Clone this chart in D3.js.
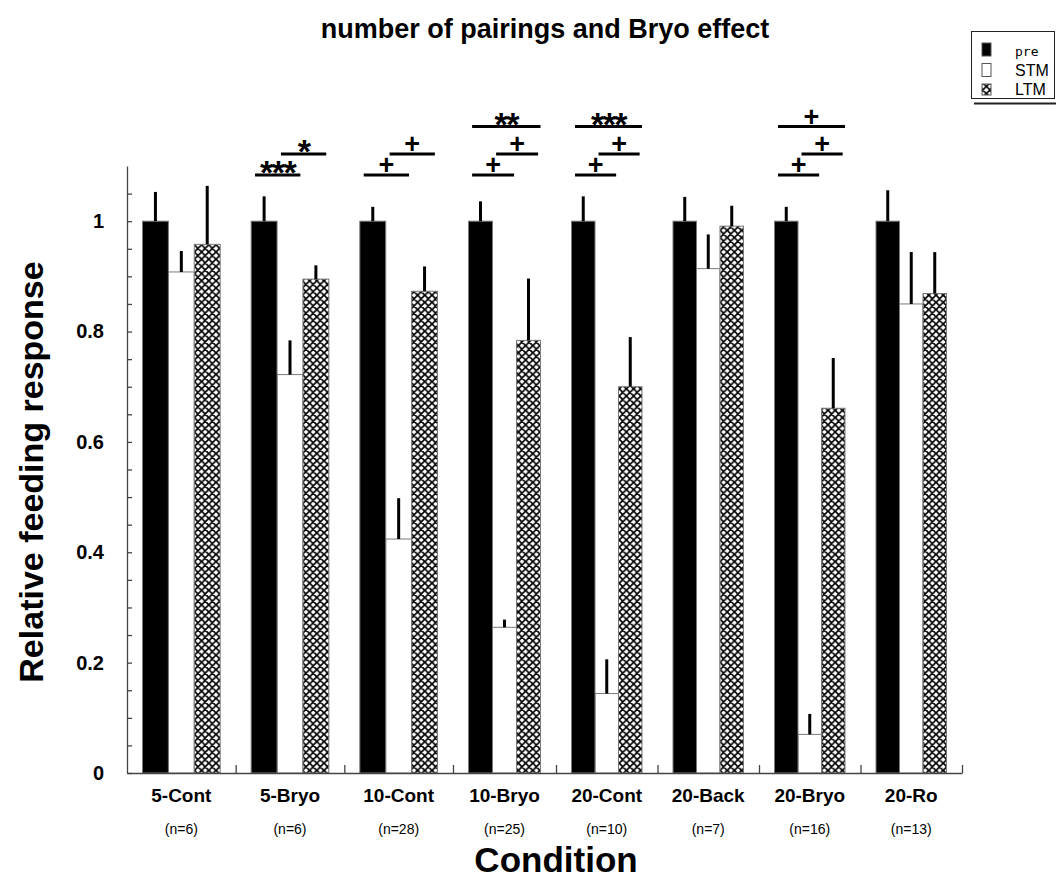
<!DOCTYPE html>
<html>
<head>
<meta charset="utf-8">
<script src="https://cdn.jsdelivr.net/npm/d3@7"></script>
<style>
  html, body { margin: 0; padding: 0; background: #fff; }
  svg { display: block; font-family: "Liberation Sans", Arial, sans-serif; }
</style>
</head>
<body>
<svg id="chart" width="1056" height="890"></svg>
<script>
// ---- data ----
const categories = ["5-Cont", "5-Bryo", "10-Cont", "10-Bryo", "20-Cont", "20-Back", "20-Bryo", "20-Ro"];
const sampleSizes = ["(n=6)", "(n=6)", "(n=28)", "(n=25)", "(n=10)", "(n=7)", "(n=16)", "(n=13)"];
const series = ["pre", "STM", "LTM"];

const preMean = [1, 1, 1, 1, 1, 1, 1, 1];
const preSem  = [0.053, 0.045, 0.026, 0.036, 0.045, 0.044, 0.026, 0.056];
const stmMean = [0.908, 0.722, 0.424, 0.264, 0.144, 0.914, 0.070, 0.850];
const stmSem  = [0.038, 0.062, 0.074, 0.014, 0.062, 0.062, 0.037, 0.094];
const ltmMean = [0.958, 0.895, 0.873, 0.784, 0.700, 0.991, 0.661, 0.869];
const ltmSem  = [0.106, 0.025, 0.045, 0.112, 0.090, 0.037, 0.091, 0.075];

const yTickLabels = [0, 0.2, 0.4, 0.6, 0.8, 1];

// significance markers: level 0 = lowest bracket
const significance = [
  { cat: "5-Bryo",  from: "pre", to: "STM", level: 0, mark: "***" },
  { cat: "5-Bryo",  from: "STM", to: "LTM", level: 1, mark: "*" },
  { cat: "10-Cont", from: "pre", to: "STM", level: 0, mark: "+" },
  { cat: "10-Cont", from: "STM", to: "LTM", level: 1, mark: "+" },
  { cat: "10-Bryo", from: "pre", to: "STM", level: 0, mark: "+" },
  { cat: "10-Bryo", from: "STM", to: "LTM", level: 1, mark: "+" },
  { cat: "10-Bryo", from: "pre", to: "LTM", level: 2, mark: "**" },
  { cat: "20-Cont", from: "pre", to: "STM", level: 0, mark: "+" },
  { cat: "20-Cont", from: "STM", to: "LTM", level: 1, mark: "+" },
  { cat: "20-Cont", from: "pre", to: "LTM", level: 2, mark: "***" },
  { cat: "20-Bryo", from: "pre", to: "STM", level: 0, mark: "+" },
  { cat: "20-Bryo", from: "STM", to: "LTM", level: 1, mark: "+" },
  { cat: "20-Bryo", from: "pre", to: "LTM", level: 2, mark: "+" }
];

// ---- layout ----
const svg = d3.select("#chart");
const plotLeft = 127, plotRight = 962, plotBottom = 773, plotTop = 166;

const y = d3.scaleLinear().domain([0, 1.1]).range([plotBottom, plotTop]);
// condition slots: the first three are a little wider than the rest
const slot = d3.scaleLinear().domain([0, 3, 4, 8]).range([plotLeft, 453, 556, plotRight]);
const slotPad = 15.5;
const inner = categories.map((c, i) =>
  d3.scaleBand().domain(series).range([slot(i) + slotPad, slot(i + 1) - slotPad]).padding(0)
);
const barX = (i, s) => inner[i](s);
const bw = i => inner[i].bandwidth();

// ---- crosshatch pattern ----
const defs = svg.append("defs");
const p = 7.2;
defs.append("pattern")
  .attr("id", "xhatch")
  .attr("patternUnits", "userSpaceOnUse")
  .attr("width", p).attr("height", p)
  .call(g => {
    g.append("rect").attr("width", p).attr("height", p).attr("fill", "#fff");
    g.append("path")
      .attr("d", `M0,0L${p},${p}M${p},0L0,${p}` +
                 `M-1,1L1,-1M${p - 1},${p + 1}L${p + 1},${p - 1}` +
                 `M${p - 1},-1L${p + 1},1M-1,${p - 1}L1,${p + 1}`)
      .attr("stroke", "#000").attr("stroke-width", 1.7);
  });

const rows = categories.map((c, i) => ({
  cat: c, i,
  vals: { pre: preMean[i], STM: stmMean[i], LTM: ltmMean[i] },
  errs: { pre: preSem[i], STM: stmSem[i], LTM: ltmSem[i] }
}));

const fills = { pre: "#000", STM: "#fff", LTM: "url(#xhatch)" };

// ---- bars (STM first so neighbouring edges sit on top) ----
const drawOrder = ["STM", "pre", "LTM"];
const barsG = svg.append("g");
drawOrder.forEach(s => {
  barsG.selectAll(null).data(rows).enter().append("rect")
    .attr("x", d => barX(d.i, s))
    .attr("y", d => y(d.vals[s]))
    .attr("width", d => bw(d.i))
    .attr("height", d => y(0) - y(d.vals[s]))
    .attr("fill", fills[s])
    .attr("stroke", "#7a7a7a")
    .attr("stroke-width", 1);
});

// ---- error bars (upper only) ----
series.forEach(s => {
  svg.append("g").selectAll("line").data(rows).enter().append("line")
    .attr("x1", d => barX(d.i, s) + bw(d.i) / 2)
    .attr("x2", d => barX(d.i, s) + bw(d.i) / 2)
    .attr("y1", d => y(d.vals[s]))
    .attr("y2", d => y(d.vals[s] + d.errs[s]))
    .attr("stroke", "#000")
    .attr("stroke-width", 3);
});

// ---- axes ----
const axisColor = "#444";
const xAxis = svg.append("g")
  .attr("transform", `translate(0,${plotBottom})`)
  .call(d3.axisBottom(slot).tickValues(d3.range(1, categories.length + 1))
    .tickSizeInner(-8).tickSizeOuter(0).tickFormat(""));
xAxis.selectAll("path, line").attr("stroke", axisColor).attr("stroke-width", 1.3);

const minorTicks = d3.range(0, 22).map(k => k * 0.05);
const yMinor = svg.append("g")
  .attr("transform", `translate(${plotLeft},0)`)
  .call(d3.axisLeft(y).tickValues(minorTicks).tickSizeInner(-5).tickSizeOuter(0).tickFormat(""));
yMinor.selectAll("path, line").attr("stroke", axisColor).attr("stroke-width", 1.3);

const yLabels = svg.append("g")
  .attr("transform", `translate(${plotLeft},0)`)
  .call(d3.axisLeft(y).tickValues(yTickLabels).tickSize(0).tickPadding(23)
    .tickFormat(d3.format("~g")));
yLabels.select(".domain").remove();
yLabels.selectAll("text")
  .attr("font-family", "'Liberation Sans', Arial, sans-serif")
  .attr("font-size", 20).attr("font-weight", "bold").attr("fill", "#000");

// category labels and sample sizes
const catG = svg.append("g");
catG.selectAll("text.cat").data(rows).enter().append("text")
  .attr("class", "cat")
  .attr("x", d => (slot(d.i) + slot(d.i + 1)) / 2)
  .attr("y", 802)
  .attr("text-anchor", "middle")
  .attr("font-size", 19).attr("font-weight", "bold")
  .text(d => d.cat);
catG.selectAll("text.n").data(rows).enter().append("text")
  .attr("class", "n")
  .attr("x", d => (slot(d.i) + slot(d.i + 1)) / 2)
  .attr("y", 834)
  .attr("text-anchor", "middle")
  .attr("font-size", 14)
  .text(d => sampleSizes[d.i]);

// ---- significance brackets ----
const levelOffset = [9, -12, -39.5];
const sigG = svg.append("g");
significance.forEach(m => {
  const i = categories.indexOf(m.cat);
  const w = bw(i);
  const span = series.indexOf(m.to) - series.indexOf(m.from);
  const x1 = barX(i, m.from) + 0.15 * w;
  const x2 = x1 + (span * 1.1 + 0.65) * w;
  const ly = plotTop + levelOffset[m.level];
  sigG.append("line")
    .attr("x1", x1).attr("x2", x2).attr("y1", ly).attr("y2", ly)
    .attr("stroke", "#000").attr("stroke-width", 3);
  const isStar = m.mark.indexOf("*") >= 0;
  sigG.append("text")
    .attr("x", (x1 + x2) / 2)
    .attr("y", isStar ? ly + 9 : ly - 1)
    .attr("text-anchor", "middle")
    .attr("font-weight", "bold")
    .attr("font-size", isStar ? 34 : 27)
    .attr("letter-spacing", isStar ? -1.5 : 0)
    .text(m.mark);
});

// ---- titles ----
svg.append("text")
  .attr("x", 545).attr("y", 38)
  .attr("text-anchor", "middle")
  .attr("font-size", 27).attr("font-weight", "bold")
  .text("number of pairings and Bryo effect");

svg.append("text")
  .attr("transform", `translate(43,472) rotate(-90)`)
  .attr("text-anchor", "middle")
  .attr("font-size", 34).attr("font-weight", "bold")
  .text("Relative feeding response");

svg.append("text")
  .attr("x", 556).attr("y", 872)
  .attr("text-anchor", "middle")
  .attr("font-size", 35).attr("font-weight", "bold")
  .text("Condition");

// ---- legend ----
const lg = svg.append("g");
lg.append("line").attr("x1", 974).attr("x2", 1056).attr("y1", 103.5).attr("y2", 103.5)
  .attr("stroke", "#222").attr("stroke-width", 2);
lg.append("rect").attr("x", 971.5).attr("y", 31.5).attr("width", 83).attr("height", 67)
  .attr("fill", "#fff").attr("stroke", "#222").attr("stroke-width", 1);
const legendRows = [
  { s: "pre", y: 43, h: 13, font: "'DejaVu Sans Mono', monospace", size: 13, base: 56 },
  { s: "STM", y: 63.5, h: 13, font: "'Liberation Sans', Arial, sans-serif", size: 16, base: 76 },
  { s: "LTM", y: 84, h: 11, font: "'Liberation Sans', Arial, sans-serif", size: 16, base: 95 }
];
legendRows.forEach(r => {
  lg.append("rect").attr("x", 982).attr("y", r.y).attr("width", 9).attr("height", r.h)
    .attr("fill", fills[r.s]).attr("stroke", "#555").attr("stroke-width", 1);
  lg.append("text").attr("x", 1015).attr("y", r.base)
    .attr("font-family", r.font).attr("font-size", r.size)
    .text(r.s);
});
</script>
</body>
</html>
